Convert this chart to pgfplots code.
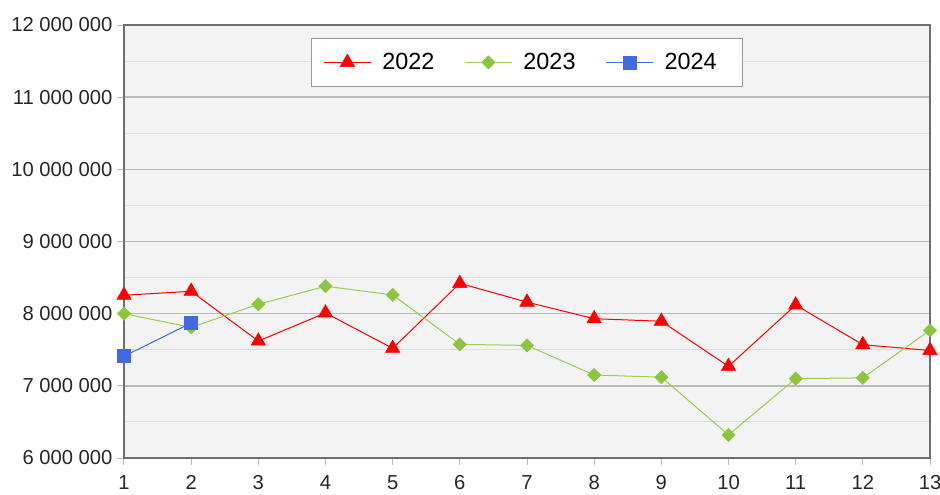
\documentclass[border=0pt]{standalone}
\usepackage{pgfplots}
\pgfplotsset{compat=1.18}
\usepackage{fontspec}
\setmainfont{Liberation Sans}
\definecolor{bgc}{HTML}{F3F3F3}
\definecolor{framec}{HTML}{6E6E6E}
\definecolor{majc}{HTML}{BABABA}
\definecolor{minc}{HTML}{DDDDDD}
\definecolor{redc}{HTML}{FF0000}
\definecolor{greenc}{HTML}{8CC63E}
\definecolor{greenl}{HTML}{9ACD4E}
\definecolor{bluec}{HTML}{4169E1}
\begin{document}
\begin{tikzpicture}
\path[use as bounding box] (-124bp,-37bp) rectangle (816bp,458bp);
\begin{axis}[
  scale only axis,
  width=806bp, height=433bp,
  xmin=1, xmax=13, ymin=6000000, ymax=12000000,
  xtick={1,2,...,13},
  ytick={6000000,7000000,...,12000000},
  minor ytick={6500000,7500000,...,11500000},
  scaled y ticks=false,
  /pgf/number format/.cd, fixed, 1000 sep={\ }, assume math mode=true,
  /pgfplots/.cd,
  tick label style={font=\fontsize{20.3}{24}\selectfont, text=black!85},
  yticklabel style={xshift=-1bp},
  xticklabel style={yshift=-7bp},
  axis background/.style={fill=bgc},
  axis line style={draw=framec, line width=1.6bp},
  ymajorgrids, yminorgrids,
  major grid style={draw=majc, line width=1.4bp},
  minor grid style={draw=minc, line width=1.1bp},
  tick align=outside,
  major tick length=7bp,
  minor tick length=0bp,
  tick style={draw=majc, line width=1bp},
  xtick pos=bottom, ytick pos=left,
  legend columns=3,
  legend style={at={(0.5,0.97)}, anchor=north, draw=gray!80, line width=1bp, fill=white,
    font=\fontsize{23.5}{27}\selectfont, inner xsep=12bp, inner ysep=13bp,
    /tikz/every odd column/.append style={column sep=9bp},
    /tikz/every even column/.append style={column sep=28bp}},
  legend image code/.code={\draw[mark repeat=2, mark phase=2, #1] plot coordinates {(0bp,0bp) (23.5bp,0bp) (47bp,0bp)};},
]
\addplot[redc, line width=1bp, mark=triangle*, mark size=8.3bp, mark options={fill=redc, draw=redc, line width=0.5bp}]
coordinates {(1,8255000) (2,8310000) (3,7620000) (4,8010000) (5,7520000) (6,8420000) (7,8160000) (8,7930000) (9,7895000) (10,7270000) (11,8120000) (12,7570000) (13,7490000)};
\addlegendentry{2022}
\addplot[greenl, line width=1bp, mark=square*, mark size=4.7bp, mark options={rotate=45, fill=greenc, draw=greenc, line width=0.5bp}]
coordinates {(1,8000000) (2,7810000) (3,8130000) (4,8380000) (5,8260000) (6,7575000) (7,7560000) (8,7150000) (9,7120000) (10,6320000) (11,7100000) (12,7110000) (13,7770000)};
\addlegendentry{2023}
\addplot[bluec, line width=1bp, mark=square*, mark size=6.5bp, mark options={fill=bluec, draw=bluec, line width=0.5bp}]
coordinates {(1,7410000) (2,7870000)};
\addlegendentry{2024\hspace*{12bp}}
\end{axis}
\end{tikzpicture}
\end{document}
